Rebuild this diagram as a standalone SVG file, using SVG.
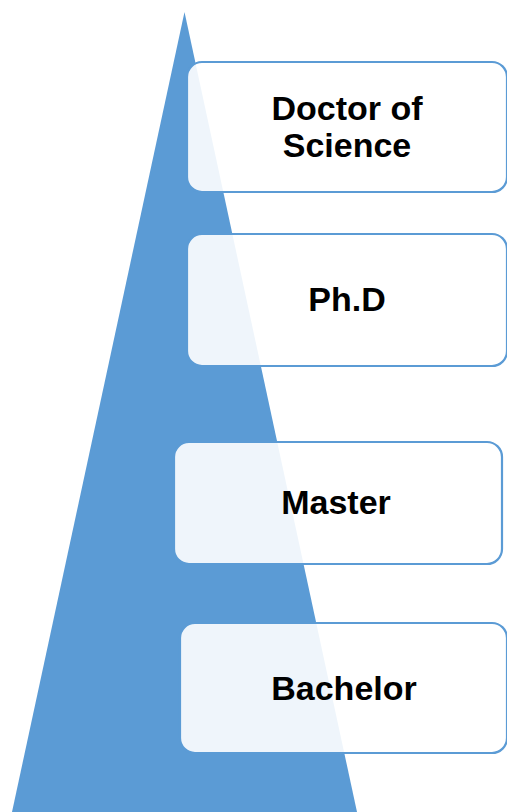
<svg xmlns="http://www.w3.org/2000/svg" width="507" height="812" viewBox="0 0 507 812">
<style>
.box{fill:#ffffff;fill-opacity:0.9;stroke:#5B9BD5;stroke-width:2.2}
.lbl{font-family:"Liberation Sans",Arial,sans-serif;font-weight:bold;font-size:34px;fill:#000000;text-anchor:middle}
</style>
<rect width="507" height="812" fill="#ffffff"/>
<g id="pyramid">
<polygon points="184.5,12 12,812 357,812" fill="#5B9BD5"/>
</g>
<g id="connectors"></g>
<g id="doctor-of-science">
<rect class="box" x="187" y="62" width="320" height="130" rx="15"/>
<text class="lbl" x="347" y="119.5">Doctor of</text>
<text class="lbl" x="347" y="157">Science</text>
</g>
<g id="phd">
<rect class="box" x="187" y="234" width="320" height="132" rx="15"/>
<text class="lbl" x="347" y="311">Ph.D</text>
</g>
<g id="master">
<rect class="box" x="174" y="442" width="328" height="122" rx="15"/>
<text class="lbl" x="336" y="513.5">Master</text>
</g>
<g id="bachelor">
<rect class="box" x="180" y="623" width="327" height="130" rx="15"/>
<text class="lbl" x="344" y="699.5">Bachelor</text>
</g>
</svg>
